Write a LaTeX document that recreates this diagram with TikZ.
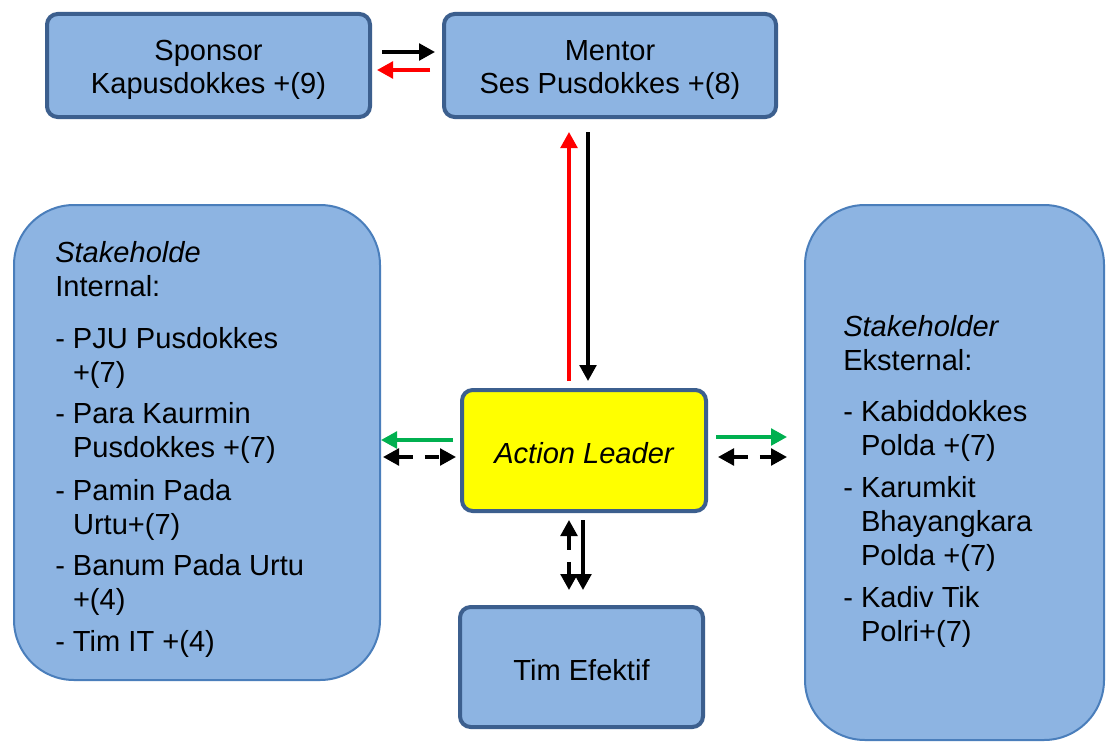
\documentclass[tikz,border=0pt]{standalone}
\usepackage{fontspec}
\setmainfont{Liberation Sans}
\usetikzlibrary{arrows.meta,calc}
\definecolor{boxfill}{HTML}{8DB4E2}
\definecolor{boxdraw}{HTML}{3C5F8E}
\definecolor{bigdraw}{HTML}{4A7EBB}
\definecolor{grn}{HTML}{00B050}
\definecolor{rd}{HTML}{FF0000}
\definecolor{ylw}{HTML}{FFFF00}
\begin{document}
\begin{tikzpicture}[x=0.75pt,y=-0.75pt,
 every node/.style={font=\fontsize{21.8}{24.75}\selectfont},
 smallbox/.style={draw=boxdraw, fill=boxfill, line width=3pt, rounded corners=8pt, align=center, inner sep=0pt},
 bigbox/.style={draw=bigdraw, fill=boxfill, line width=1.5pt, rounded corners=45pt, inner sep=0pt},
 txt/.style={anchor=north west, align=left, inner sep=0pt, font=\fontsize{21.8}{25.5}\selectfont},
 arr/.style={line width=2.6pt, -{Triangle[length=12pt,width=12.5pt]}},
 darr/.style={line width=2.6pt, dash pattern=on 11pt off 9pt, {Triangle[length=12pt,width=12.5pt]}-{Triangle[length=12pt,width=12.5pt]}},
]
\useasboundingbox (0,0) rectangle (1106,742);
\fill[white] (0,0) rectangle (1106,742);

\node[smallbox, minimum width=242.25pt, minimum height=77.25pt] (sponsor) at (208.5,65.5) {\rule{0pt}{22pt}Sponsor\\Kapusdokkes +(9)};
\node[smallbox, minimum width=249pt, minimum height=77.25pt] (mentor) at (610,65.5) {\rule{0pt}{22pt}Mentor\\Ses Pusdokkes +(8)};
\node[bigbox, minimum width=274.5pt, minimum height=356.25pt] (left) at (197,442.5) {};
\node[bigbox, minimum width=224.25pt, minimum height=401.25pt] (right) at (954.5,472.5) {};
\node[smallbox, fill=ylw, minimum width=183pt, minimum height=90.75pt] (action) at (584,450.5) {\rule{0pt}{20.3pt}\itshape Action Leader};
\node[smallbox, minimum width=182.25pt, minimum height=90pt] (tim) at (581.5,667) {\rule{0pt}{20.3pt}Tim Efektif};

\node[txt] (ltxt) at (55,241) {\textit{Stakeholde}\\
Internal:\\[13.5pt]
- PJU Pusdokkes\\
\hphantom{- }+(7)\\[5pt]
- Para Kaurmin\\
\hphantom{- }Pusdokkes +(7)\\[7pt]
- Pamin Pada\\
\hphantom{- }Urtu+(7)\\[5pt]
- Banum Pada Urtu\\
\hphantom{- }+(4)\\[6pt]
- Tim IT +(4)};

\node[txt] (rtxt) at (843,315) {\textit{Stakeholder}\\
Eksternal:\\[13pt]
- Kabiddokkes\\
\hphantom{- }Polda +(7)\\[5.5pt]
- Karumkit\\
\hphantom{- }Bhayangkara\\
\hphantom{- }Polda +(7)\\[6.5pt]
- Kadiv Tik\\
\hphantom{- }Polri+(7)};

% sponsor <-> mentor
\draw[arr] ([shift={(10,-13.5)}]sponsor.east) -- ([shift={(-7,-13.5)}]mentor.west);
\draw[arr, rd] ([shift={(-12,4.5)}]mentor.west) -- ([shift={(5,4.5)}]sponsor.east);
% action <-> mentor
\draw[arr, rd] ([shift={(-15,-7)}]action.north) -- ([shift={(-41,13)}]mentor.south);
\draw[arr] ([shift={(-22,13)}]mentor.south) -- ([shift={(4,-7)}]action.north);
% action <-> left
\draw[arr, grn] ([shift={(-7,-10.5)}]action.west) -- (left.east |- {(0,440)});
\draw[darr] ([shift={(2,0)}]left.east |- {(0,457)}) -- ([shift={(-4,6.5)}]action.west);
% action <-> right
\draw[arr, grn] ([shift={(8,-13.5)}]action.east) -- ([shift={(-17,0)}]right.west |- {(0,437)});
\draw[darr] ([shift={(10,6.5)}]action.east) -- ([shift={(-17,0)}]right.west |- {(0,457)});
% action <-> tim
\draw[darr] ([shift={(-15,7)}]action.south) -- ([shift={(-12.5,-15)}]tim.north);
\draw[arr] ([shift={(-1,7)}]action.south) -- ([shift={(1.5,-15)}]tim.north);
\end{tikzpicture}
\end{document}
